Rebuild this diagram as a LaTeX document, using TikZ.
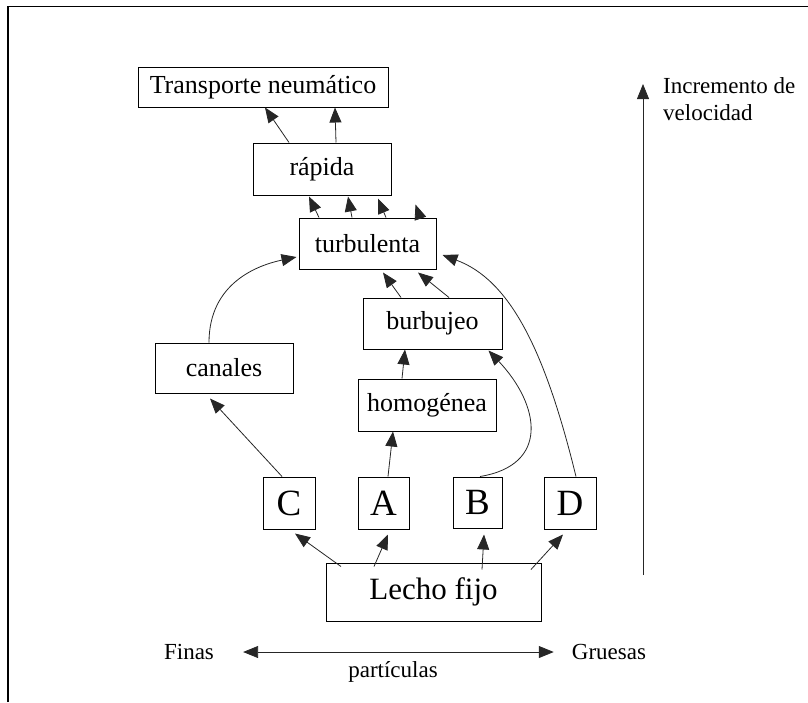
\documentclass[tikz,border=0pt]{standalone}
\usepackage{fontspec}
\setmainfont{Liberation Serif}
\usetikzlibrary{arrows.meta,calc}
\begin{document}
\begin{tikzpicture}[x=1pt,y=-1pt,
  box/.style={draw=black,line width=1pt,rectangle,inner sep=0pt,font=\fontsize{26}{30}\selectfont},
  letter/.style={box,minimum width=52pt,minimum height=52pt,font=\fontsize{37}{40}\selectfont},
  tip/.style={-{Triangle[length=15pt,width=12pt]}},
  conn/.style={draw=black!85,line width=0.8pt,tip},
  side/.style={font=\fontsize{23}{27}\selectfont,inner sep=0pt}]
\useasboundingbox (0,0) rectangle (808,702);
\draw[line width=1.8pt] (8,702) -- (8,6.5) -- (808,6.5);
% nodes
\node[box,minimum width=250pt,minimum height=40pt] (tn) at (263,87) {Transporte neumático};
\node[box,minimum width=138pt,minimum height=52pt] (rap) at (322,169) {rápida};
\node[box,minimum width=137pt,minimum height=51pt] (turb) at (367.5,243.5) {turbulenta};
\node[box,minimum width=139pt,minimum height=51pt] (burb) at (432.5,323.5) {burbujeo};
\node[box,minimum width=138pt,minimum height=50pt] (can) at (224,368) {canales};
\node[box,minimum width=138pt,minimum height=52pt] (hom) at (427,405) {homogénea};
\node[letter] (C) at (289,503) {C};
\node[letter,minimum width=51pt] (A) at (383.5,503) {A};
\node[letter,minimum width=49pt,minimum height=51pt] (B) at (477.5,502.5) {B};
\node[letter] (D) at (570,503) {D};
\node[box,minimum width=215pt,minimum height=58pt,font=\fontsize{31}{34}\selectfont] (lf) at (433.5,592) {Lecho fijo};
% connectors
\draw[conn] ([xshift=-33pt]rap.north) -- ([xshift=2pt]tn.south);
\draw[conn] ([xshift=14pt]rap.north) -- ([xshift=72pt]tn.south);
\draw[conn] ([xshift=-48.5pt]turb.north) -- ([xshift=-13pt,yshift=-1pt]rap.south);
\draw[conn] ([xshift=-15.5pt]turb.north) -- ([xshift=26pt,yshift=-1pt]rap.south);
\draw[conn] ([xshift=18.5pt]turb.north) -- ([xshift=56pt,yshift=-3pt]rap.south);
\draw[conn] ([xshift=52.5pt]turb.north) -- ([xshift=24pt,yshift=-9pt]rap.south east);
\draw[conn] ([xshift=-31.5pt]burb.north) -- ([xshift=15.5pt,yshift=-3pt]turb.south);
\draw[conn] ([xshift=16.5pt]burb.north) -- ([xshift=50.5pt,yshift=-3pt]turb.south);
\draw[conn] ([xshift=-25pt]hom.north) -- ([xshift=-27.5pt]burb.south);
\draw[conn] ([xshift=4.5pt]A.north) -- ([xshift=-34pt]hom.south);
\draw[conn] ([xshift=-7pt]C.north) -- ([xshift=-14pt,yshift=-5pt]can.south);
\draw[conn] ([xshift=-15pt]can.north) .. controls +(0,-60) and +(-38,8) .. ([xshift=-2pt,yshift=-13.5pt]turb.west);
\draw[conn] ([xshift=6pt]D.north) .. controls (545,350) and (510,280) .. ([xshift=6pt,yshift=-11.5pt]turb.east);
\draw[conn] ([xshift=2.5pt]B.north) .. controls (550,465) and (540,405) .. ([xshift=-14pt,yshift=-1pt]burb.south east);
\draw[conn] ([xshift=-92.5pt,yshift=-4pt]lf.north) -- ([xshift=6pt,yshift=-4pt]C.south);
\draw[conn] ([xshift=-59.5pt,yshift=-4pt]lf.north) -- ([xshift=4.5pt,yshift=-5pt]A.south);
\draw[conn] ([xshift=48.5pt,yshift=-7pt]lf.north) -- ([xshift=6.5pt,yshift=-6pt]B.south);
\draw[conn] ([xshift=97.5pt,yshift=-7pt]lf.north) -- ([xshift=-7pt,yshift=-5pt]D.south);
% velocity axis
\coordinate (vb) at (643,575);
\coordinate (vt) at (643,84);
\draw[conn] (vb) -- (vt);
\node[side,anchor=north west,align=left] (inc) at (663,77) {Incremento de\\velocidad};
% particle axis
\node[side] (fin) at (189,652) {Finas};
\node[side] (gru) at (609,652) {Gruesas};
\node[side] (par) at (393,672) {partículas};
\draw[draw=black!85,line width=0.8pt,{Triangle[length=15pt,width=12pt]}-{Triangle[length=15pt,width=12pt]}] ([xshift=29pt]fin.east) -- ([xshift=-18pt]gru.west);
\end{tikzpicture}
\end{document}
